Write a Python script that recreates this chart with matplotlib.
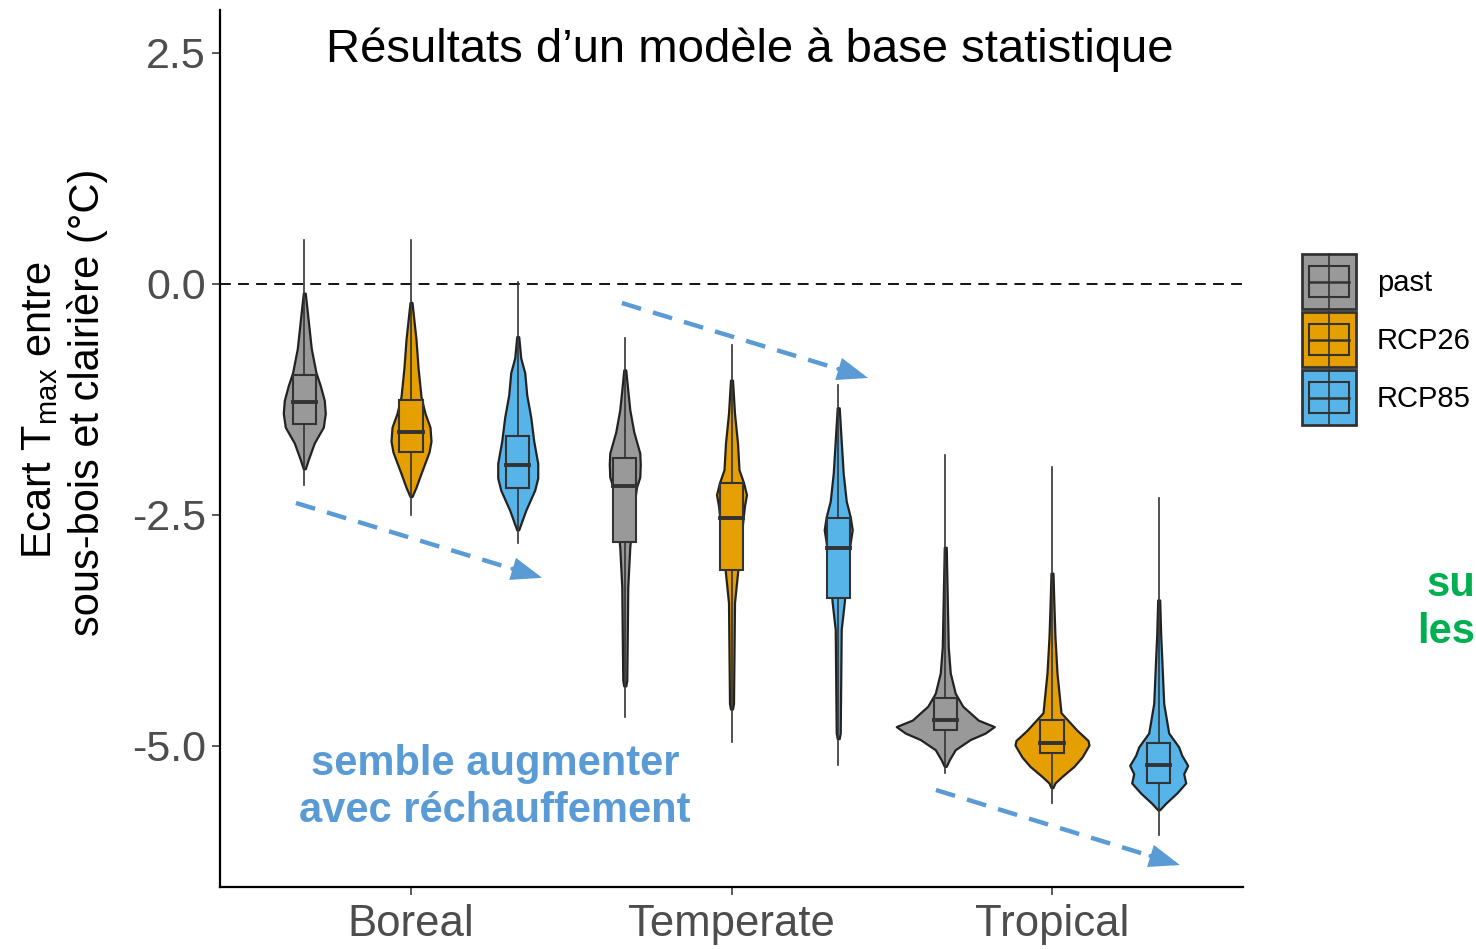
import matplotlib
matplotlib.use("Agg")
import matplotlib.pyplot as plt
from matplotlib.patches import Rectangle
import numpy as np

plt.rcParams['font.family'] = ['Liberation Sans', 'DejaVu Sans']
plt.rcParams['mathtext.fontset'] = 'custom'
plt.rcParams['mathtext.rm'] = 'Liberation Sans'
plt.rcParams['mathtext.default'] = 'regular'

regions = ["Boreal", "Temperate", "Tropical"]
scenarios = ["past", "RCP26", "RCP85"]
scenario_colors = ["#999999", "#E69F00", "#56B4E9"]

# violin outlines: (value in °C, relative density)
boreal_past = [(-0.10, 1), (-0.30, 3), (-0.50, 5), (-0.70, 7), (-0.96, 11.7), (-1.10, 16),
               (-1.26, 20), (-1.40, 21), (-1.55, 19), (-1.72, 10), (-1.90, 4), (-2.00, 1)]
boreal_rcp26 = [(-0.20, 1), (-0.40, 3), (-0.60, 5), (-0.90, 7), (-1.22, 10), (-1.40, 14),
                (-1.55, 19), (-1.70, 20), (-1.82, 18), (-2.05, 10), (-2.20, 5), (-2.30, 1)]
boreal_rcp85 = [(-0.57, 1), (-0.80, 3), (-0.96, 7), (-1.20, 9), (-1.44, 13), (-1.70, 16),
                (-1.94, 20), (-2.10, 20), (-2.23, 17), (-2.45, 8), (-2.60, 3), (-2.66, 1)]

temperate_past = [(-0.93, 1), (-1.15, 3), (-1.36, 5), (-1.60, 9), (-1.83, 15), (-1.95, 15.5),
                  (-2.09, 15), (-2.20, 11.7), (-2.50, 8), (-2.85, 5), (-3.28, 3), (-3.80, 2.5),
                  (-4.29, 2), (-4.35, 1)]
temperate_rcp26 = [(-1.04, 1), (-1.40, 3), (-1.72, 6), (-2.01, 7.5), (-2.15, 12), (-2.28, 15),
                   (-2.40, 13), (-2.70, 10), (-3.13, 6), (-3.45, 3), (-4.00, 2.5), (-4.54, 2),
                   (-4.60, 1)]
temperate_rcp85 = [(-1.34, 1), (-1.70, 3), (-2.05, 5), (-2.35, 8), (-2.52, 12), (-2.66, 14),
                   (-2.80, 12), (-3.10, 9), (-3.45, 6), (-3.74, 3), (-4.30, 2.5), (-4.86, 2),
                   (-4.92, 1)]

tropical_past = [(-2.85, 1), (-3.40, 2), (-3.93, 3), (-4.21, 5), (-4.43, 10), (-4.57, 17.5),
                 (-4.72, 33), (-4.79, 49), (-4.86, 40), (-4.93, 25), (-5.04, 10), (-5.15, 4),
                 (-5.22, 1)]
tropical_rcp26 = [(-3.13, 1), (-3.50, 2), (-3.82, 3), (-4.21, 5), (-4.64, 9), (-4.83, 25),
                  (-4.94, 36), (-4.99, 37), (-5.12, 30), (-5.22, 22), (-5.33, 10), (-5.40, 3),
                  (-5.45, 1)]
tropical_rcp85 = [(-3.42, 1), (-3.80, 2), (-4.04, 3), (-4.54, 5), (-4.86, 10), (-5.01, 20),
                  (-5.10, 23), (-5.21, 29), (-5.30, 25), (-5.40, 27), (-5.51, 18), (-5.62, 7),
                  (-5.69, 1)]

# box stats: (lower whisker, q1, median, q3, upper whisker)
boreal_box = [(-2.18, -1.51, -1.28, -0.985, 0.476),
              (-2.50, -1.82, -1.60, -1.26, 0.476),
              (-2.80, -2.21, -1.96, -1.65, 0.02)]
temperate_box = [(-4.69, -2.79, -2.19, -1.88, -0.58),
                 (-4.96, -3.10, -2.53, -2.15, -0.66),
                 (-5.21, -3.40, -2.86, -2.53, -1.09)]
tropical_box = [(-5.29, -4.83, -4.72, -4.48, -1.85),
                (-5.62, -5.08, -4.97, -4.72, -1.98),
                (-5.96, -5.40, -5.21, -4.97, -2.32)]

violins = [[boreal_past, boreal_rcp26, boreal_rcp85],
           [temperate_past, temperate_rcp26, temperate_rcp85],
           [tropical_past, tropical_rcp26, tropical_rcp85]]
boxes = [boreal_box, temperate_box, tropical_box]

W, H = 1476, 949
fig = plt.figure(figsize=(W / 100, H / 100), dpi=100)
ax = fig.add_axes([220 / W, 62 / H, 1023 / W, 877 / H])
ax.set_xlim(0.404, 3.596)
ax.set_ylim(-6.526, 2.965)

dodge = 0.333
dens_scale = 1 / 320.5
box_half = 0.036
edge = "#222222"

for i, region in enumerate(regions):
    for j, scen in enumerate(scenarios):
        x = i + 1 + (j - 1) * dodge
        c = scenario_colors[j]
        prof = np.array(violins[i][j])
        hw = prof[:, 1] * dens_scale
        ax.fill_betweenx(prof[:, 0], x - hw, x + hw, facecolor=c, edgecolor=edge,
                         lw=1.6, zorder=2)
        lo, q1, med, q3, hi = boxes[i][j]
        ax.plot([x, x], [lo, hi], color="#333333", lw=1.2, zorder=3)
        ax.add_patch(Rectangle((x - box_half, q1), 2 * box_half, q3 - q1, facecolor=c,
                               edgecolor="#333333", lw=1.5, zorder=4))
        ax.plot([x - box_half, x + box_half], [med, med], color="#333333", lw=2.8, zorder=5)

ax.axhline(0, color="black", lw=1.3, ls=(0, (6, 4)), zorder=1)

for s in ["top", "right"]:
    ax.spines[s].set_visible(False)
for s in ["left", "bottom"]:
    ax.spines[s].set_linewidth(1.6)
    ax.spines[s].set_color("black")

ax.set_yticks([-5, -2.5, 0, 2.5])
ax.set_yticklabels(["-5.0", "-2.5", "0.0", "2.5"])
ax.set_xticks([1, 2, 3])
ax.set_xticklabels(regions)
ax.tick_params(axis="y", labelsize=31, labelcolor="#4d4d4d", color="#4d4d4d",
               length=6, width=1.3, pad=4)
ax.tick_params(axis="x", labelsize=31.5, labelcolor="#4d4d4d", color="#4d4d4d",
               length=6, width=1.3, pad=6)

# blue dashed trend arrows
blue = "#5B9BD5"
arrows = [((0.641, -2.37), (1.409, -3.18)),
          ((1.658, -0.206), (2.426, -1.017)),
          ((2.638, -5.476), (3.399, -6.288))]
for start, end in arrows:
    start, end = np.array(start), np.array(end)
    mid = start + 0.88 * (end - start)
    ax.plot([start[0], mid[0]], [start[1], mid[1]], color=blue, lw=3.2,
            ls=(0, (4.5, 2.8)), solid_capstyle="butt", zorder=6)
    ax.annotate("", xy=tuple(end), xytext=tuple(mid),
                arrowprops=dict(arrowstyle="-|>,head_length=0.8,head_width=0.3",
                                mutation_scale=20, color=blue, lw=3.2,
                                shrinkA=0, shrinkB=0, joinstyle="miter"),
                zorder=6)

fig.text(750 / W, 1 - 50 / H, "Résultats d’un modèle à base statistique",
         ha="center", va="center", fontsize=34)

fig.text(40 / W, 1 - 410 / H, "Ecart T$_{max}$ entre", rotation=90,
         ha="center", va="center", fontsize=30)
fig.text(88 / W, 1 - 402 / H, "sous-bois et clairière (°C)", rotation=90,
         ha="center", va="center", fontsize=30)

fig.text(495 / W, 1 - 764 / H, "semble augmenter", color=blue, fontsize=30,
         fontweight="bold", ha="center", va="center")
fig.text(495 / W, 1 - 811 / H, "avec réchauffement", color=blue, fontsize=30,
         fontweight="bold", ha="center", va="center")

green = "#00B050"
fig.text(1475 / W, 1 - 585 / H, "su", color=green, fontsize=30,
         fontweight="bold", ha="right", va="center")
fig.text(1475 / W, 1 - 632 / H, "les", color=green, fontsize=30,
         fontweight="bold", ha="right", va="center")

# legend drawn in pixel space
lax = fig.add_axes([0, 0, 1, 1], zorder=5)
lax.set_xlim(0, W)
lax.set_ylim(H, 0)
lax.axis("off")
for k, (name, c) in enumerate(zip(scenarios, scenario_colors)):
    top = 254 + k * 58
    lax.add_patch(Rectangle((1302, top), 54, 55, facecolor=c, edgecolor="#333333", lw=2))
    lax.plot([1329, 1329], [top, top + 55], color="#333333", lw=1.2)
    lax.add_patch(Rectangle((1309, top + 12), 40, 31, facecolor=c, edgecolor="#333333", lw=1.5))
    lax.plot([1309, 1349], [top + 27.5, top + 27.5], color="#333333", lw=1.8)
    lax.text(1377, top + 29, name, va="center", ha="left", fontsize=21)

fig.savefig("out.png", dpi=100)
